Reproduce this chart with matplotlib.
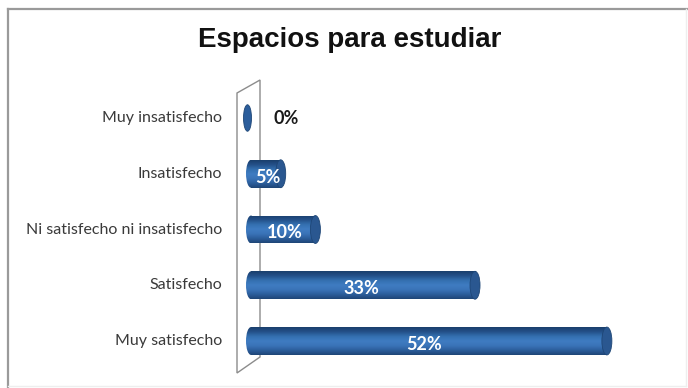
import numpy as np
import matplotlib
matplotlib.use("Agg")
import matplotlib.pyplot as plt
from matplotlib.patches import Ellipse, Rectangle, Polygon
from matplotlib.colors import LinearSegmentedColormap

categories = ["Muy satisfecho", "Satisfecho", "Ni satisfecho ni insatisfecho",
              "Insatisfecho", "Muy insatisfecho"]
values = [52, 33, 10, 5, 0]
labels = ["52%", "33%", "10%", "5%", "0%"]
title = "Espacios para estudiar"

W, H = 688, 388
fig = plt.figure(figsize=(W / 100, H / 100), dpi=100)
fig.patch.set_facecolor("white")

# outer frame
fig.add_artist(plt.Line2D([8 / W, 8 / W], [0, 1 - 9 / H], transform=fig.transFigure,
                          color="#9a9a9a", lw=1.6))
fig.add_artist(plt.Line2D([8 / W, 1], [1 - 9 / H, 1 - 9 / H], transform=fig.transFigure,
                          color="#9a9a9a", lw=1.6))
fig.add_artist(plt.Line2D([686 / W, 686 / W], [2 / H, 1 - 9 / H], transform=fig.transFigure,
                          color="#eeeeee", lw=1))
fig.add_artist(plt.Line2D([8 / W, 686 / W], [2 / H, 2 / H], transform=fig.transFigure,
                          color="#eeeeee", lw=1))

# axes geometry
zero_px = 251
px_per = 6.94
x0px, x1px = 236, 670
ybot, ytop = 375, 80
ax = fig.add_axes([x0px / W, (H - ybot) / H, (x1px - x0px) / W, (ybot - ytop) / H])
xmin = -(zero_px - x0px) / px_per
xmax = (x1px - zero_px) / px_per
sp = 55.75
ax.set_xlim(xmin, xmax)
ax.set_ylim(-(ybot - 341) / sp, 4 + (118 - ytop) / sp)
ax.axis("off")

# wall (parallelogram) behind bars
wall = [(237, 93), (260, 80), (260, 357), (237, 373)]
ax.add_patch(Polygon([(x / W, 1 - y / H) for x, y in wall], closed=True,
                     transform=fig.transFigure, facecolor="white",
                     edgecolor="#8c8c8c", lw=1.0, zorder=0.5, clip_on=False))

cmap = LinearSegmentedColormap.from_list(
    "cyl", ["#1f4677", "#2c5e9c", "#3a74b8", "#3f7cc2", "#3470b0", "#24518a", "#1a3f6d"])
grad = np.linspace(0, 1, 64).reshape(-1, 1)

bh = 0.5
capw = 10 / px_per
ypos = np.arange(len(categories))
for y, v, lab in zip(ypos, values, labels):
    if v > 0:
        rect = Rectangle((0, y - bh / 2), v - capw / 2, bh, facecolor="none",
                         edgecolor="none", zorder=2)
        ax.add_patch(rect)
        im = ax.imshow(grad, extent=(0, v - capw / 2, y + bh / 2, y - bh / 2),
                       cmap=cmap, aspect="auto", zorder=2, interpolation="bilinear")
        im.set_clip_path(rect)
        # left rounded end
        el = Ellipse((0, y), capw, bh, facecolor="none", edgecolor="none", zorder=2)
        ax.add_patch(el)
        im2 = ax.imshow(grad, extent=(-capw / 2, capw / 2, y + bh / 2, y - bh / 2),
                        cmap=cmap, aspect="auto", zorder=2, interpolation="bilinear")
        im2.set_clip_path(el)
        # right end cap
        ax.add_patch(Ellipse((v - capw / 2, y), capw, bh, facecolor="#2a5790",
                             edgecolor="#1e4676", lw=0.6, zorder=3))
        ax.text(v / 2 * 0.96, y - 0.06, lab, color="white", fontsize=13,
                fontweight="bold", ha="center", va="center", family="Lato", zorder=4)
    else:
        el = Ellipse((-capw / 2 * 0.7, y), capw * 0.8, bh * 0.95, facecolor="#2c5e9c",
                     edgecolor="#1e4676", lw=0.6, zorder=3)
        ax.add_patch(el)
        ax.text(3.2, y, lab, color="#1a1a1a", fontsize=13, fontweight="bold",
                ha="left", va="center", family="Lato", zorder=4)

for y, c in zip(ypos, categories):
    ax.text(-(zero_px - 222) / px_per, y, c, ha="right", va="center", fontsize=11.5,
            color="#3a3a3a", family="Lato", clip_on=False)

fig.text(350 / W, 1 - 40 / H, title, ha="center", va="center", fontsize=20,
         fontweight="bold", family="Liberation Sans", color="#111111")

fig.savefig("out.png", dpi=100, facecolor="white")
